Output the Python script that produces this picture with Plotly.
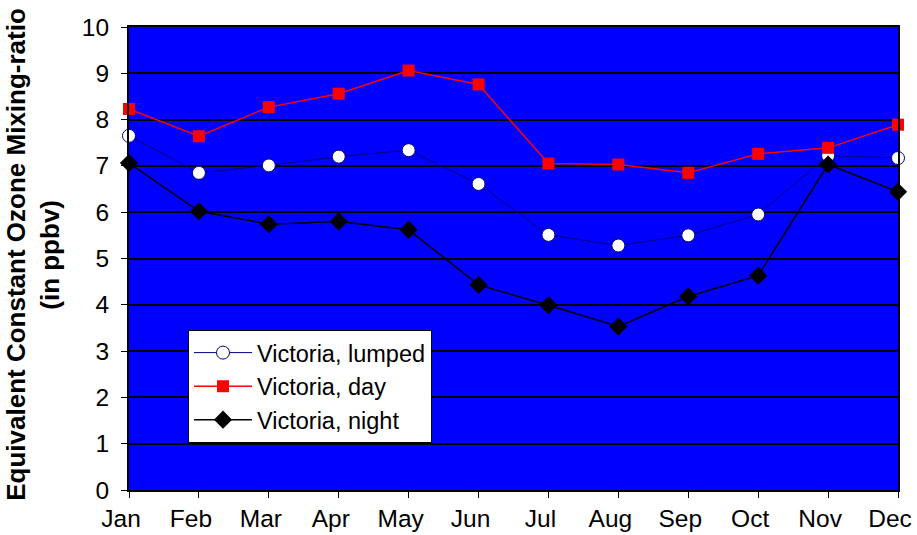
import plotly.graph_objects as go

months = ["Jan", "Feb", "Mar", "Apr", "May", "Jun", "Jul", "Aug", "Sep", "Oct", "Nov", "Dec"]
lumped = [7.65, 6.85, 7.01, 7.20, 7.34, 6.61, 5.51, 5.28, 5.50, 5.95, 7.22, 7.17]
day = [8.23, 7.64, 8.27, 8.56, 9.06, 8.76, 7.05, 7.03, 6.85, 7.26, 7.39, 7.89]
night = [7.06, 6.02, 5.74, 5.80, 5.62, 4.43, 3.99, 3.53, 4.18, 4.63, 7.03, 6.44]
y_ticks = list(range(0, 11))

FONT = "Liberation Sans, Arial, sans-serif"

fig = go.Figure()
fig.add_trace(go.Scatter(
    x=months, y=lumped, name="Victoria, lumped", mode="lines+markers",
    line=dict(color="#000080", width=1),
    marker=dict(symbol="circle", size=13, color="white", line=dict(color="#000080", width=1)),
    cliponaxis=False))
fig.add_trace(go.Scatter(
    x=months, y=day, name="Victoria, day", mode="lines+markers",
    line=dict(color="#FF0000", width=1.5),
    marker=dict(symbol="square", size=12, color="#FF0000", line=dict(width=0)),
    cliponaxis=False))
fig.add_trace(go.Scatter(
    x=months, y=night, name="Victoria, night", mode="lines+markers",
    line=dict(color="#000000", width=1.5),
    marker=dict(symbol="diamond", size=14, color="#000000", line=dict(width=0)),
    cliponaxis=False))

fig.update_layout(
    width=917, height=535,
    margin=dict(l=129, r=19, t=27, b=45),
    paper_bgcolor="white",
    plot_bgcolor="#0000FF",
    font=dict(family=FONT, size=24, color="black"),
    showlegend=True,
    legend=dict(
        x=(188 - 129) / 769, y=(490 - 330) / 462.5, xanchor="left", yanchor="top",
        bgcolor="white", bordercolor="black", borderwidth=1,
        font=dict(family=FONT, size=23.5, color="black"),
        tracegroupgap=0, itemwidth=58,
    ),
    xaxis=dict(
        type="category", categoryorder="array", categoryarray=months,
        range=[0, 11], showgrid=False, zeroline=False, automargin=False,
        showline=True, linecolor="black", linewidth=2, mirror=True,
        ticks="outside", ticklen=6, tickcolor="black", tickwidth=1,
        tickfont=dict(family=FONT, size=24.5), ticklabelstandoff=0,
        ticklabelshift=-8,
    ),
    yaxis=dict(
        range=[0, 10], tickvals=y_ticks, ticktext=[str(v) for v in y_ticks],
        showgrid=True, gridcolor="black", gridwidth=1.5, zeroline=False, automargin=False,
        showline=True, linecolor="black", linewidth=2, mirror=True,
        ticks="outside", ticklen=6, tickcolor="black", tickwidth=1,
        tickfont=dict(family=FONT, size=24.5), ticklabelstandoff=7,
    ),
    annotations=[
        dict(text="<b>Equivalent Constant Ozone Mixing-ratio</b>", textangle=-90,
             xref="paper", yref="paper", x=(16 - 129) / 769, y=(490 - 255) / 462.5,
             xanchor="center", yanchor="middle", showarrow=False,
             font=dict(family=FONT, size=26, color="black")),
        dict(text="<b>(in ppbv)</b>", textangle=-90,
             xref="paper", yref="paper", x=(50 - 129) / 769, y=(490 - 255) / 462.5,
             xanchor="center", yanchor="middle", showarrow=False,
             font=dict(family=FONT, size=26, color="black")),
    ],
)

fig.write_html("out.html", config={"displayModeBar": False},
               post_script="document.body.style.margin='0';")
